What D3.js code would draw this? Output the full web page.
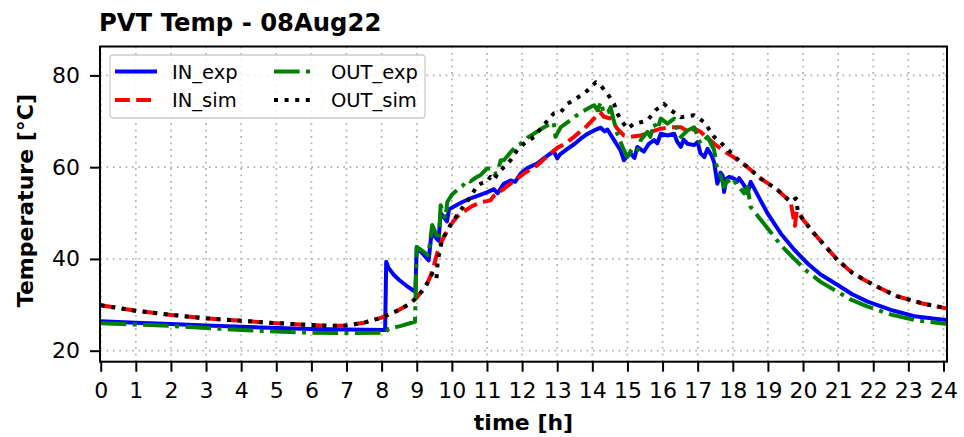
<!DOCTYPE html>
<html>
<head>
<meta charset="utf-8">
<script src="https://cdn.jsdelivr.net/npm/d3@7"></script>
<style>
  body { margin: 0; background: #fff; }
  text { font-family: "DejaVu Sans", sans-serif; fill: #000; }
</style>
</head>
<body>
<div id="chart"></div>
<script>
// [time (h), temperature (degC)]
const inExp = [
  [0,26.4],[1,26.1],[2,25.8],[3,25.5],[4,25.2],[5,24.95],[6,24.75],[7,24.6],[8.1,24.5],
  [8.13,39.4],[8.2,38.0],[8.35,36.5],[8.5,35.4],[8.7,34.2],[8.96,32.8],
  [9.0,42.6],[9.15,41.3],[9.34,39.7],[9.42,45.6],[9.5,45.0],[9.62,44.0],[9.68,50.0],[9.78,49.0],[9.86,48.2],[9.92,50.8],
  [10.1,51.6],[10.3,52.4],[10.53,53.2],[10.75,53.8],[11.0,54.5],[11.2,55.2],[11.3,54.3],[11.48,56.4],[11.67,57.1],[11.8,56.8],
  [11.96,58.6],[12.15,59.8],[12.43,60.8],[12.6,61.8],[12.9,63.5],[13.0,61.9],[13.08,62.8],[13.29,64.0],[13.5,65.1],[13.67,66.2],
  [13.85,67.2],[14.05,68.0],[14.24,68.6],[14.35,67.8],[14.43,68.2],[14.62,65.9],[14.8,63.7],[14.9,61.5],[15.0,62.6],[15.09,63.0],
  [15.2,62.0],[15.28,64.4],[15.47,63.4],[15.6,65.0],[15.76,65.9],[15.85,65.2],[15.95,67.3],[16.14,66.9],[16.33,67.3],[16.42,65.5],
  [16.52,64.4],[16.6,66.0],[16.71,65.1],[16.9,64.8],[17.0,65.5],[17.08,63.0],[17.19,62.2],[17.28,64.0],[17.4,62.5],[17.47,61.0],
  [17.56,56.4],[17.65,58.8],[17.71,58.2],[17.75,54.6],[17.82,57.5],[17.9,57.9],[18.04,57.5],[18.12,56.8],[18.18,57.6],[18.32,56.1],
  [18.42,54.3],[18.51,56.8],[18.6,55.5],[18.8,52.6],[19.0,49.8],[19.37,45.5],[19.75,42.0],[20.13,39.0],[20.5,36.6],[20.99,34.3],
  [21.4,32.3],[21.84,30.7],[22.5,28.9],[23.17,27.5],[23.7,27.0],[24.1,26.7]
];

const inSim = [
  [0,29.9],[1,28.7],[2,27.8],[3,27.05],[4,26.5],[5,26.0],[6,25.6],[6.5,25.4],[7,25.5],[7.5,26.1],[8,27.2],[8.5,28.9],[8.8,30.2],
  [9.0,31.6],[9.15,33.0],[9.3,34.7],[9.4,36.4],[9.48,38.3],[9.58,41.2],[9.68,43.2],[9.77,44.8],[9.96,47.3],[10.1,48.8],[10.25,49.9],
  [10.53,51.3],[10.82,52.4],[11.0,52.6],[11.1,52.8],[11.2,53.8],[11.3,54.3],[11.5,55.4],[11.67,56.4],[12.05,58.6],[12.43,60.4],
  [12.81,63.0],[13.0,64.2],[13.2,65.0],[13.48,66.6],[13.86,69.1],[14.1,71.0],[14.22,72.0],[14.33,71.0],[14.52,70.6],[14.71,68.4],
  [14.9,66.9],[15.09,66.6],[15.38,66.9],[15.67,67.7],[15.95,68.4],[16.24,68.7],[16.52,68.7],[16.76,67.7],[16.9,68.4],[17.08,67.7],
  [17.47,65.1],[17.85,63.0],[18.0,62.3],[18.42,60.0],[18.8,57.5],[19.28,55.0],[19.65,52.4],[19.77,47.2],[19.82,50.5],[20.0,48.6],
  [20.32,45.5],[20.99,39.7],[21.4,37.0],[21.75,35.4],[22.2,33.6],[22.7,31.8],[23.4,30.3],[24.1,29.2]
];

const outExp = [
  [0,26.0],[1,25.7],[2,25.4],[3,24.95],[4,24.5],[5,24.2],[6,23.9],[7,23.85],[8.1,23.9],[8.2,24.8],[8.5,25.3],[8.95,26.3],
  [9.0,42.6],[9.15,41.8],[9.33,40.8],[9.44,47.4],[9.55,45.5],[9.63,44.1],[9.68,51.7],[9.76,50.0],[9.82,48.8],[9.87,52.4],
  [10.0,54.0],[10.15,55.0],[10.3,55.9],[10.44,57.2],[10.53,56.9],[10.7,57.8],[10.82,58.3],[11.0,59.7],[11.1,59.7],[11.2,58.5],
  [11.3,58.8],[11.39,61.5],[11.48,61.5],[11.7,63.5],[11.86,64.8],[11.96,65.1],[12.15,66.4],[12.34,67.3],[12.6,68.6],[12.9,69.8],
  [12.95,66.6],[13.1,68.7],[13.3,69.8],[13.48,70.9],[13.7,72.0],[13.95,73.1],[14.05,73.5],[14.15,72.4],[14.24,74.2],[14.33,71.7],
  [14.45,72.0],[14.52,73.1],[14.6,70.5],[14.71,67.3],[14.9,63.7],[15.0,62.2],[15.1,63.6],[15.19,64.4],[15.3,63.8],[15.38,65.9],
  [15.57,67.7],[15.65,66.6],[15.76,69.5],[15.85,68.2],[15.95,70.6],[16.14,69.5],[16.33,70.6],[16.42,68.0],[16.52,66.6],[16.71,68.0],
  [16.9,68.7],[17.08,65.1],[17.28,66.6],[17.47,63.7],[17.56,59.3],[17.66,58.0],[17.75,55.7],[17.85,57.2],[17.94,56.1],[18.05,56.8],
  [18.18,55.7],[18.32,54.3],[18.42,55.7],[18.51,51.3],[18.75,49.0],[19.0,46.6],[19.37,43.0],[19.75,40.0],[20.13,37.2],[20.5,35.0],
  [20.99,32.8],[21.4,31.0],[21.84,29.6],[22.5,27.9],[23.17,26.7],[23.7,26.2],[24.1,25.8]
];

const outSim = [
  [0,29.9],[1,28.7],[2,27.8],[3,27.05],[4,26.5],[5,26.0],[6,25.6],[6.5,25.4],[7,25.5],[7.5,26.1],[8,27.2],[8.5,28.9],[8.8,30.2],
  [9.0,31.6],[9.25,33.9],[9.44,36.8],[9.56,35.6],[9.6,39.7],[9.72,44.1],[9.96,47.4],[10.25,50.6],[10.53,53.5],[10.72,56.0],
  [10.82,56.4],[11.0,56.8],[11.1,57.9],[11.2,57.2],[11.3,58.6],[11.48,60.0],[11.67,61.5],[11.86,63.7],[12.05,65.1],[12.34,66.6],
  [12.53,68.4],[12.9,71.7],[13.1,72.0],[13.29,73.8],[13.67,75.6],[13.86,76.7],[14.1,78.5],[14.24,77.8],[14.43,76.0],[14.62,73.8],
  [14.71,71.7],[14.86,69.8],[15.0,68.4],[15.19,69.5],[15.38,69.8],[15.57,70.2],[15.8,72.4],[16.04,73.8],[16.24,72.4],[16.52,70.9],
  [16.9,71.3],[17.19,69.8],[17.47,66.6],[17.85,64.0],[18.0,62.6],[18.42,60.0],[18.8,57.5],[19.28,55.0],[19.65,52.4],[19.8,53.2],
  [19.85,50.5],[20.0,48.6],[20.32,45.5],[20.99,39.7],[21.4,37.0],[21.75,35.4],[22.2,33.6],[22.7,31.8],[23.4,30.3],[24.1,29.2]
];

const xTicks = d3.range(0, 25);
const yTicks = [20, 40, 60, 80];

const series = [
  { name: "IN_exp", data: inExp, color: "#0000ff", dash: null },
  { name: "IN_sim", data: inSim, color: "#ff0000", dash: "14.8,6.4" },
  { name: "OUT_exp", data: outExp, color: "#008000", dash: "25.6,6.4,4,6.4" },
  { name: "OUT_sim", data: outSim, color: "#000000", dash: "4,6.6" }
];

const W = 964, H = 437;
const box = { left: 100, right: 947, top: 46.5, bottom: 361.7 };

const svg = d3.select("#chart")
  .append("svg")
  .attr("width", W)
  .attr("height", H);

const x = d3.scaleLinear()
  .domain([-0.02, 24.1])
  .range([box.left, box.right]);

const y = d3.scaleLinear()
  .domain([17.6, 86.3])
  .range([box.bottom, box.top]);

svg.append("defs").append("clipPath")
  .attr("id", "plot-clip")
  .append("rect")
  .attr("x", box.left)
  .attr("y", box.top)
  .attr("width", box.right - box.left)
  .attr("height", box.bottom - box.top);

// grid
const grid = svg.append("g")
  .attr("stroke", "#b5b5b5")
  .attr("stroke-width", 1.8)
  .attr("stroke-dasharray", "1.8,4.6");

grid.selectAll("line.vx")
  .data(xTicks)
  .enter().append("line")
  .attr("x1", d => x(d)).attr("x2", d => x(d))
  .attr("y1", box.top).attr("y2", box.bottom);

grid.selectAll("line.hy")
  .data(yTicks)
  .enter().append("line")
  .attr("x1", box.left).attr("x2", box.right)
  .attr("y1", d => y(d)).attr("y2", d => y(d));

// lines
const line = d3.line()
  .x(d => x(d[0]))
  .y(d => y(d[1]));

svg.append("g")
  .attr("clip-path", "url(#plot-clip)")
  .selectAll("path")
  .data(series)
  .enter().append("path")
  .attr("d", d => line(d.data))
  .attr("fill", "none")
  .attr("stroke", d => d.color)
  .attr("stroke-width", 4)
  .attr("stroke-linejoin", "round")
  .attr("stroke-dasharray", d => d.dash);

// frame
svg.append("rect")
  .attr("x", box.left)
  .attr("y", box.top)
  .attr("width", box.right - box.left)
  .attr("height", box.bottom - box.top)
  .attr("fill", "none")
  .attr("stroke", "#000")
  .attr("stroke-width", 2);

// axes
const xAxis = svg.append("g")
  .attr("transform", `translate(0,${box.bottom})`)
  .call(d3.axisBottom(x).tickValues(xTicks).tickSize(10).tickPadding(11).tickSizeOuter(0));

const yAxis = svg.append("g")
  .attr("transform", `translate(${box.left},0)`)
  .call(d3.axisLeft(y).tickValues(yTicks).tickSize(10).tickPadding(10).tickSizeOuter(0));

[xAxis, yAxis].forEach(ax => {
  ax.select(".domain").remove();
  ax.selectAll("line").attr("stroke", "#000").attr("stroke-width", 2);
  ax.selectAll("text")
    .attr("font-family", "DejaVu Sans")
    .attr("font-size", 22)
    .attr("fill", "#000");
});

// title and axis labels
svg.append("text")
  .attr("x", 99)
  .attr("y", 30.5)
  .attr("font-size", 24.3)
  .attr("font-weight", "bold")
  .text("PVT Temp - 08Aug22");

svg.append("text")
  .attr("x", (box.left + box.right) / 2)
  .attr("y", 430)
  .attr("text-anchor", "middle")
  .attr("font-size", 22)
  .attr("font-weight", "bold")
  .text("time [h]");

svg.append("text")
  .attr("transform", `translate(33,${(box.top + box.bottom) / 2 - 3.5}) rotate(-90)`)
  .attr("text-anchor", "middle")
  .attr("font-size", 22)
  .attr("font-weight", "bold")
  .text("Temperature [°C]");

// legend, two columns
const legend = svg.append("g");

legend.append("rect")
  .attr("x", 110)
  .attr("y", 55)
  .attr("width", 315)
  .attr("height", 63)
  .attr("rx", 3)
  .attr("fill", "#fff")
  .attr("fill-opacity", 0.8)
  .attr("stroke", "#cccccc")
  .attr("stroke-width", 1.3);

const colX = [115, 274];
const rowY = [71.5, 100];

const items = legend.selectAll("g.item")
  .data(series)
  .enter().append("g")
  .attr("transform", (d, i) => `translate(${colX[Math.floor(i / 2)]},${rowY[i % 2]})`);

items.append("line")
  .attr("x1", 0).attr("x2", 42)
  .attr("stroke", d => d.color)
  .attr("stroke-width", 4)
  .attr("stroke-dasharray", d => d.dash);

items.append("text")
  .attr("x", 57)
  .attr("y", 0)
  .attr("dy", "0.36em")
  .attr("font-size", 19.5)
  .text(d => d.name);
</script>
</body>
</html>
